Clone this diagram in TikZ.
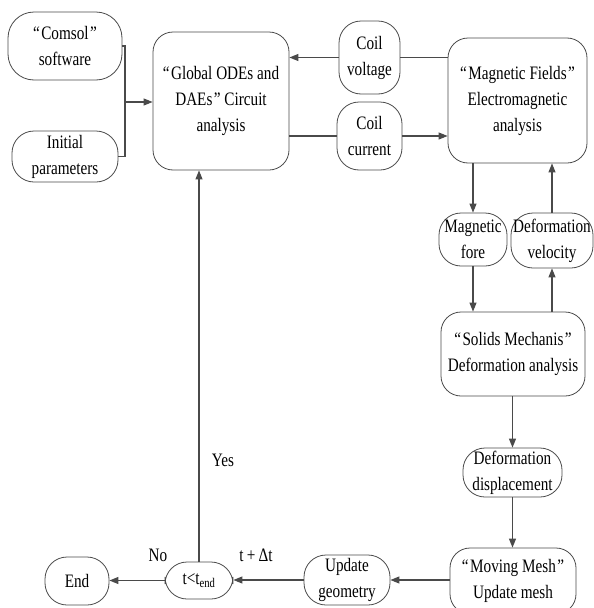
\documentclass[tikz,border=0pt]{standalone}
\usepackage{fontspec}
\setmainfont[FakeStretch=0.8]{Liberation Serif}
\usetikzlibrary{arrows.meta}
\definecolor{ln}{HTML}{4A4A4A}
\newcommand{\oq}{“\kern1.5pt}
\newcommand{\cq}{\kern1.5pt”}
\tikzset{
  box/.style={draw=ln, line width=0.8pt, rounded corners=20pt, inner sep=0pt, align=center,
    font=\fontsize{19}{26}\selectfont},
  pill/.style={box, rounded corners=22pt},
  conn/.style={draw=ln, line width=1.1pt},
  arr/.style={conn, -{Triangle[length=9pt,width=7pt]}},
  lbl/.style={font=\fontsize{19}{22}\selectfont, inner sep=0pt}
}
\begin{document}
\begin{tikzpicture}[x=1pt,y=-1pt]
\useasboundingbox (0,0) rectangle (594,608);
% nodes
\node[box, rounded corners=26pt, minimum width=114pt, minimum height=68pt] (comsol) at (65,46) {\oq Comsol\cq\\software};
\node[pill, minimum width=106pt, minimum height=51pt] (init) at (65,156.5) {Initial\\parameters};
\node[box, minimum width=136pt, minimum height=138pt] (global) at (221,101) {\oq Global ODEs and\\DAEs\cq\ Circuit\\analysis};
\node[pill, minimum width=61pt, minimum height=73pt] (cv) at (369.5,57.5) {Coil\\voltage};
\node[pill, minimum width=65pt, minimum height=68pt] (cc) at (369.5,136) {Coil\\current};
\node[box, minimum width=139pt, minimum height=125pt] (mag) at (517.5,100.5) {\oq Magnetic Fields\cq\\Electromagnetic\\analysis};
\node[pill, minimum width=68pt, minimum height=53pt] (mf) at (473,239.5) {Magnetic\\fore};
\node[pill, minimum width=82pt, minimum height=55pt] (dv) at (552,240.5) {Deformation\\velocity};
\node[box, minimum width=144pt, minimum height=84pt] (solid) at (513,354) {\oq Solids Mechanis\cq\\Deformation analysis};
\node[pill, minimum width=99pt, minimum height=49pt] (disp) at (512.5,472.5) {Deformation\\displacement};
\node[box, minimum width=126pt, minimum height=66pt] (mesh) at (513,581) {\oq Moving Mesh\cq\\Update mesh};
\node[pill, minimum width=86pt, minimum height=50pt] (geo) at (347,580) {Update\\geometry};
\node[pill, minimum width=68pt, minimum height=37pt] (tc) at (199,580.5) {t<t\textsubscript{end}};
\node[pill, minimum width=64pt, minimum height=48pt] (end) at (77,581) {End};
% labels
\node[lbl] (yes) at (223,460) {Yes};
\node[lbl] (no) at (158,555) {No};
\node[lbl] (dt) at (256,555) {t\,+\,Δt};
% connectors
\coordinate (j1) at (125,46);
\coordinate (j2) at (125,156.5);
\coordinate (j3) at (125,102);
\draw[conn] (comsol.east |- j1) -- (j1) -- (j2) -- (init.east |- j2);
\draw[arr] (j3) -- (global.west |- j3);
\draw[conn] (mag.west |- cv.east) -- (cv.east);
\draw[arr] (cv.west) -- (global.east |- cv.west);
\draw[conn] (global.east |- cc.west) -- (cc.west);
\draw[arr] (cc.east) -- (mag.west |- cc.east);
\draw[arr] (mag.south -| mf.north) -- (mf.north);
\draw[arr] (mf.south) -- (solid.north -| mf.south);
\draw[arr] (solid.north -| dv.south) -- (dv.south);
\draw[arr] (dv.north) -- (mag.south -| dv.north);
\draw[arr] (solid.south -| disp.north) -- (disp.north);
\draw[arr] (disp.south) -- (mesh.north -| disp.south);
\draw[arr] (mesh.west |- geo.east) -- (geo.east);
\draw[arr] (geo.west) -- (tc.east |- geo.west);
\draw[arr] (tc.west) -- (end.east |- tc.west);
\draw[arr] (tc.north) -- (global.south -| tc.north);
\end{tikzpicture}
\end{document}
